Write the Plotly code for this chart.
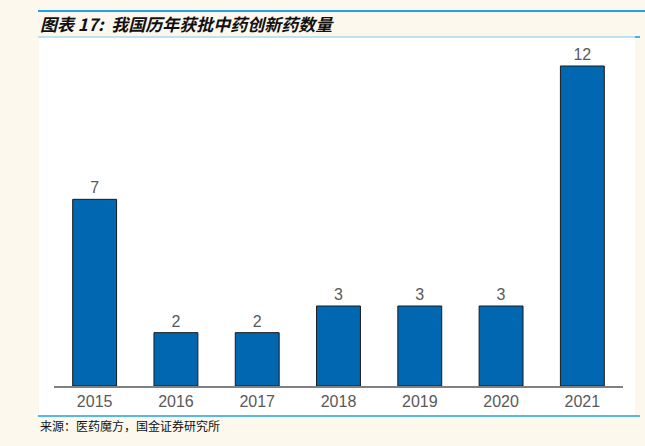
import plotly.graph_objects as go

years = ["2015", "2016", "2017", "2018", "2019", "2020", "2021"]
counts = [7, 2, 2, 3, 3, 3, 12]
title_text = "图表 17:  我国历年获批中药创新药数量"
source_text = "来源：医药魔方，国金证券研究所"

W_FIG, H_FIG = 645, 446
L, R, T, B = 54, 22, 50, 60
PW = W_FIG - L - R
PH = H_FIG - T - B

def px_x(px):
    return (px - L) / PW

def px_y(py):
    return (H_FIG - B - py) / PH

fig = go.Figure()
fig.add_trace(go.Bar(
    x=years, y=counts,
    marker=dict(color="#0067B0", line=dict(color="#1a1a1a", width=1)),
    text=[str(c) for c in counts], textposition="outside",
    textfont=dict(family="Liberation Sans, Arial", size=16, color="#595959"),
    cliponaxis=False, width=0.54, hoverinfo="skip",
))

shapes = [
    # white panel
    dict(type="rect", xref="paper", yref="paper", x0=px_x(39), x1=px_x(635),
         y0=px_y(415), y1=px_y(37), fillcolor="white", line=dict(width=0), layer="below"),
    # top line
    dict(type="line", xref="paper", yref="paper", x0=px_x(38), x1=px_x(645),
         y0=px_y(11), y1=px_y(11), line=dict(color="#1EA4E0", width=2)),
    # separator under title
    dict(type="line", xref="paper", yref="paper", x0=px_x(38), x1=px_x(640),
         y0=px_y(37), y1=px_y(37), line=dict(color="#A8DAF2", width=1.5)),
    dict(type="line", xref="paper", yref="paper", x0=px_x(635), x1=px_x(640),
         y0=px_y(37), y1=px_y(37), line=dict(color="#1EA4E0", width=1.5)),
    # bottom line
    dict(type="line", xref="paper", yref="paper", x0=px_x(38), x1=px_x(640),
         y0=px_y(416), y1=px_y(416), line=dict(color="#1EA4E0", width=1.5)),
]

annotations = [
    dict(text="<b><i>" + title_text + "</i></b>", xref="paper", yref="paper",
         x=px_x(38), y=px_y(23), xanchor="left", yanchor="middle", showarrow=False,
         font=dict(family="Noto Sans CJK SC", size=17, color="#111111")),
    dict(text=source_text, xref="paper", yref="paper",
         x=px_x(38), y=px_y(425), xanchor="left", yanchor="middle", showarrow=False,
         font=dict(family="Noto Sans CJK SC", size=12, color="#111111")),
]

fig.update_layout(
    width=W_FIG, height=H_FIG,
    margin=dict(l=L, r=R, t=T, b=B),
    paper_bgcolor="#FDF8EE", plot_bgcolor="white",
    showlegend=False, bargap=0.46,
    shapes=shapes, annotations=annotations,
    xaxis=dict(showline=True, linecolor="#808080", linewidth=1.5, ticks="",
               tickfont=dict(family="Liberation Sans, Arial", size=16, color="#595959"),
               showgrid=False, zeroline=False),
    yaxis=dict(range=[0, 12.6], visible=False, showgrid=False, zeroline=False),
)

fig.write_html(
    "out.html",
    config={"displayModeBar": False, "staticPlot": True},
    post_script="document.body.style.margin='0';document.body.style.overflow='hidden';document.body.style.background='#FDF8EE';",
)
